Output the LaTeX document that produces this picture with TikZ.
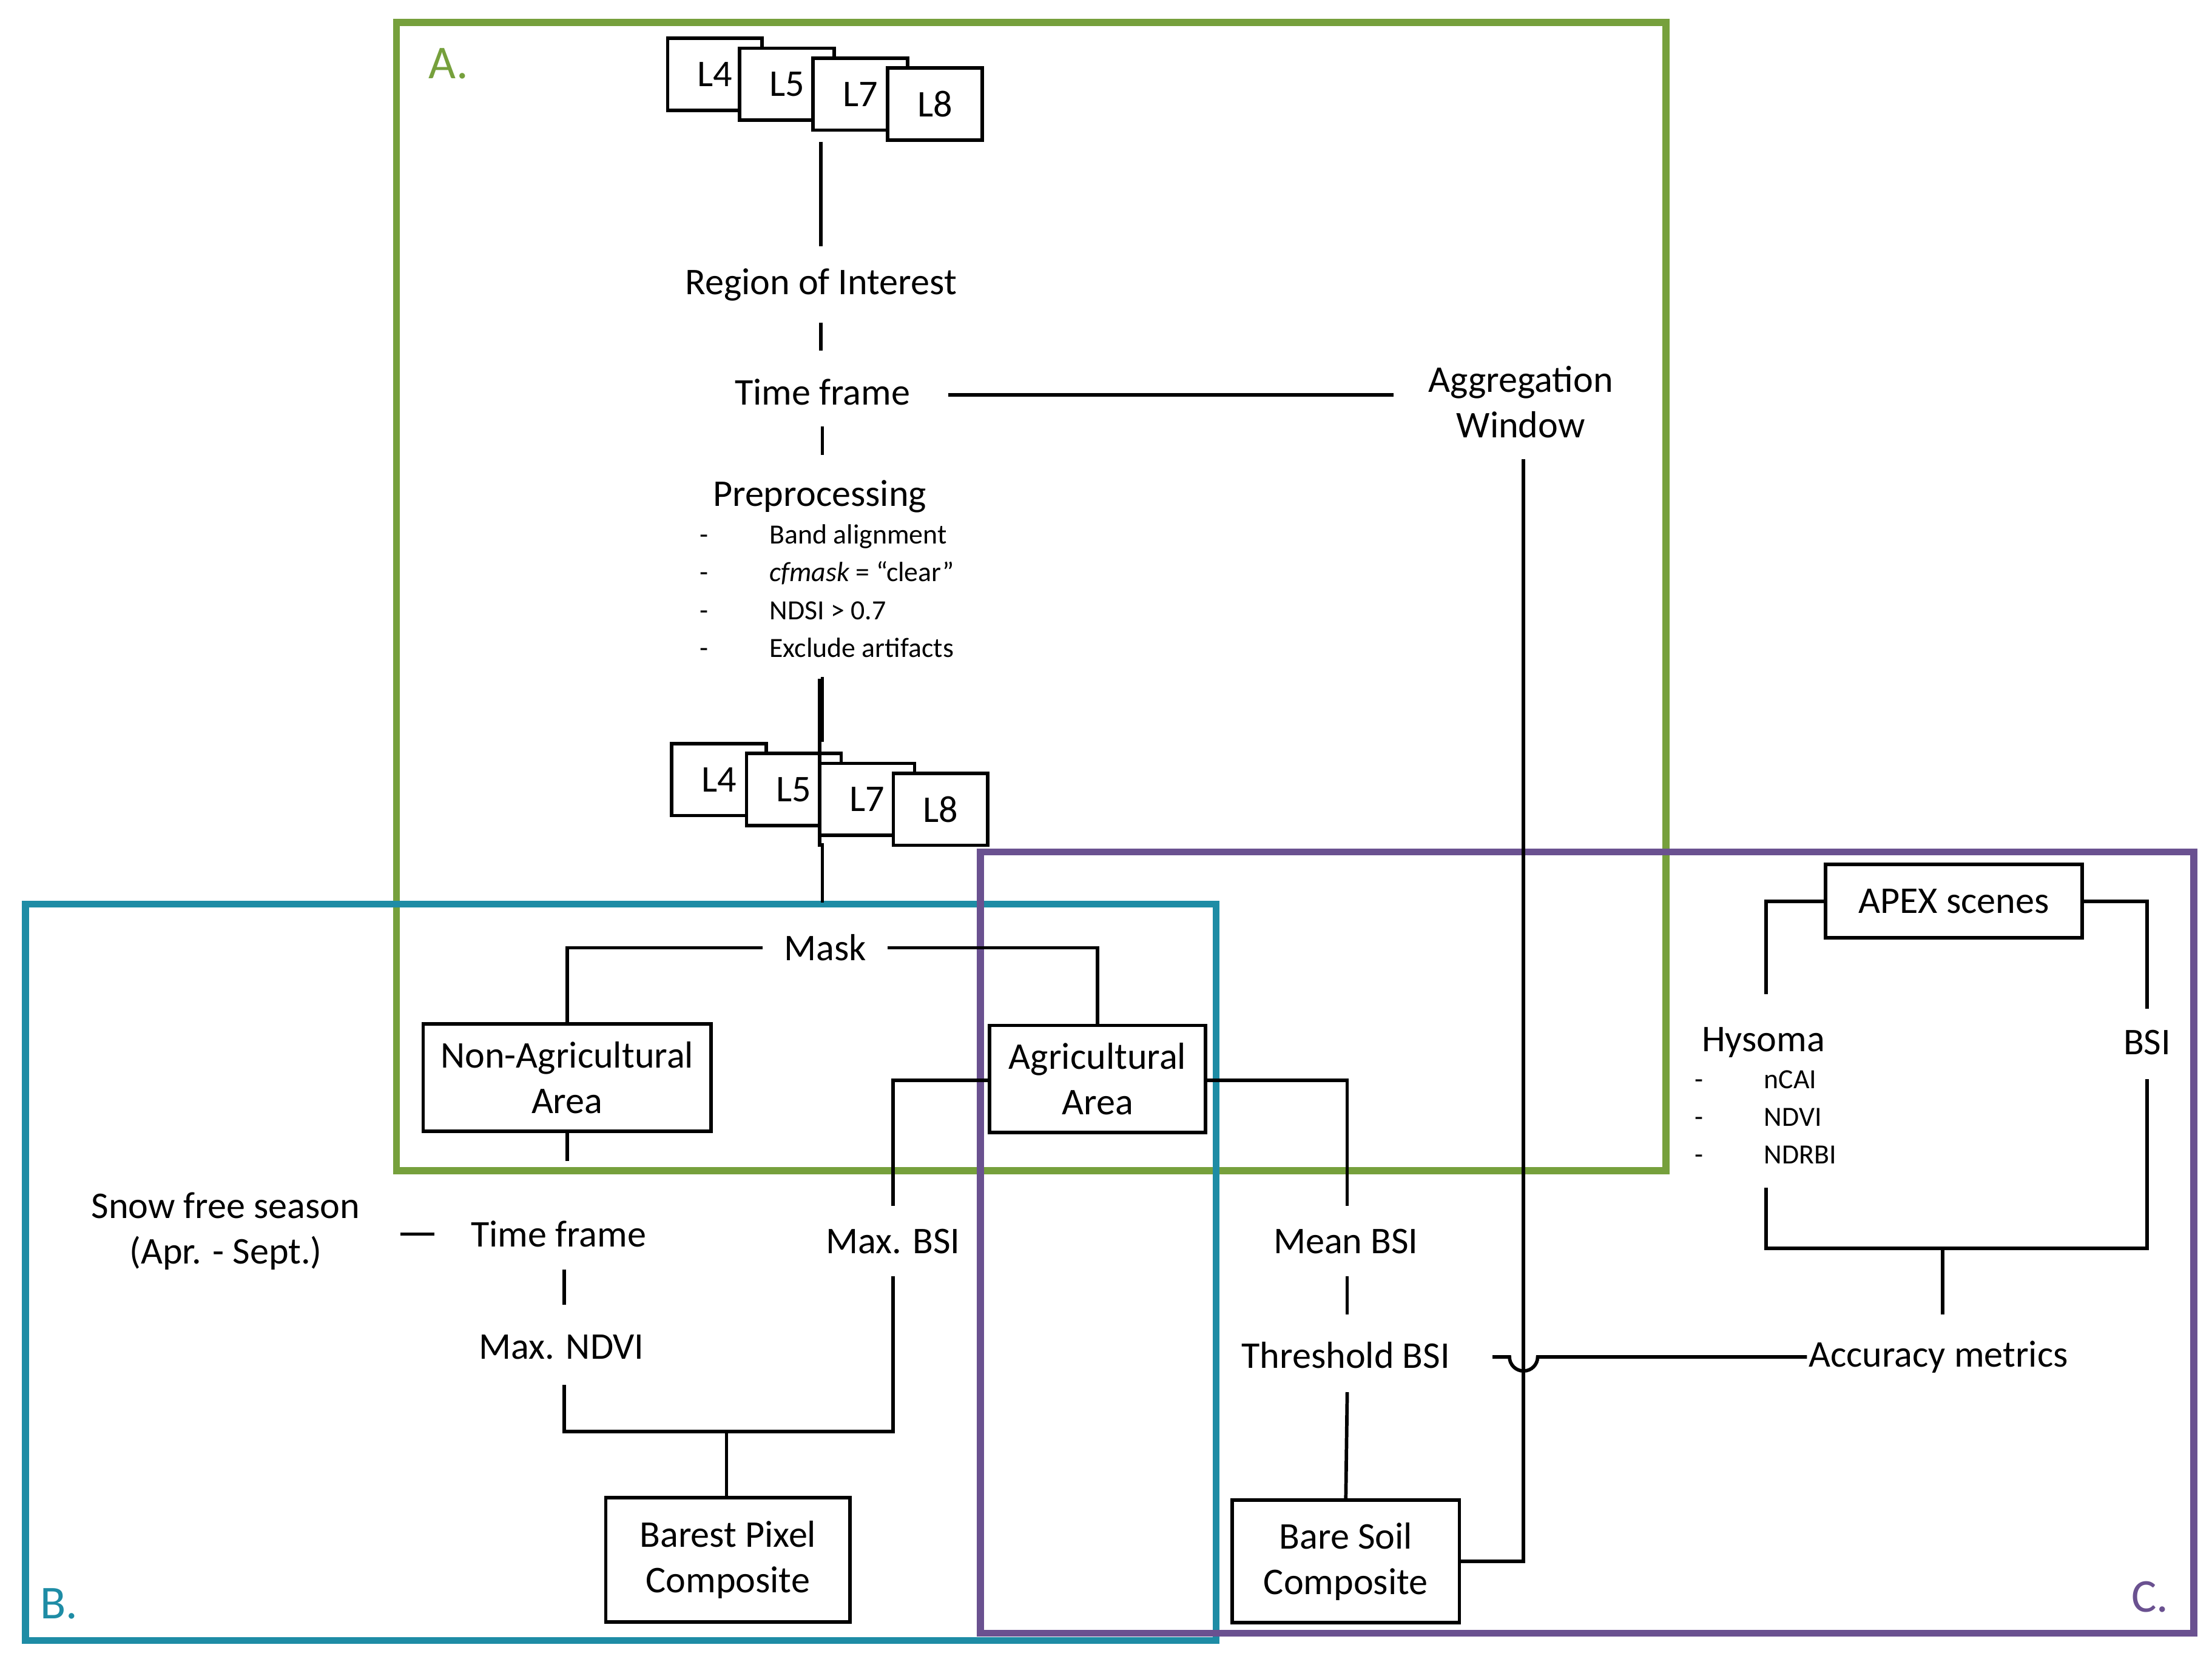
\documentclass[tikz,border=0pt]{standalone}
\usepackage{fontspec}
\setmainfont{Carlito}
\definecolor{grA}{HTML}{76A03C}
\definecolor{blB}{HTML}{1E8CA5}
\definecolor{puC}{HTML}{6A5190}
\begin{document}
\begin{tikzpicture}[
    x=0.01cm, y=-0.01cm,
    line width=0.7pt,
    txt/.style={font=\fontsize{7.6}{9.2}\selectfont, align=center, inner sep=0pt},
    small/.style={font=\fontsize{5.6}{7.6}\selectfont, align=left, inner sep=0pt, anchor=west},
    lbox/.style={draw, fill=white, txt, anchor=north west, minimum width=0.67cm, minimum height=0.51cm},
    box/.style={draw, fill=white, txt},
    frame/.style={line width=1.4pt},
    tag/.style={font=\fontsize{9.5}{11}\selectfont, inner sep=0pt}
]
    \useasboundingbox (0,0) rectangle (1568,1176);

    % --- Frames ---
    \draw[frame, grA] (281,16) rectangle (1181,830);
    \draw[frame, blB] (18,641) rectangle (862,1163);
    \draw[frame, puC] (695,604) rectangle (1555,1158);
    \node[tag, text=grA] (tagA) at (318,45) {A.};
    \node[tag, text=blB] (tagB) at (42,1137) {B.};
    \node[tag, text=puC] (tagC) at (1524,1132) {C.};

    % --- Landsat stacks ---
    \node[lbox] (tL4) at (472,26) {L4};
    \node[lbox] (tL5) at (523,33) {L5};
    \node[lbox] (tL7) at (575,40) {L7};
    \node[lbox] (tL8) at (628,47) {L8};
    \node[lbox] (bL4) at (475,526) {L4};
    \node[lbox] (bL5) at (528,533) {L5};
    \node[lbox] (bL7) at (580,540) {L7};
    \node[lbox] (bL8) at (632,547) {L8};

    % --- A. ---
    \node[txt] (roi) at (582,202) {Region of Interest};
    \node[txt] (tf1) at (583,278) {Time frame};
    \node[txt] (agg) at (1078,285) {Aggregation\\Window};
    \node[txt] (pre) at (581,352) {Preprocessing};
    \node[small] (list) at (495,419) {-\hspace{2.2em}Band alignment\\-\hspace{2.2em}\textit{cfmask} = “clear”\\-\hspace{2.2em}NDSI > 0.7\\-\hspace{2.2em}Exclude artifacts};
    \node[txt] (mask) at (585,672) {Mask};
    \node[box, minimum width=2.04cm, minimum height=0.76cm] (nonag) at (402,764) {Non-Agricultural\\Area};
    \node[box, minimum width=1.53cm, minimum height=0.76cm] (ag) at (778,765) {Agricultural\\Area};

    % --- B. ---
    \node[txt] (snow) at (160,873) {Snow free season\\(Apr. - Sept.)};
    \node[txt] (tf2) at (396,875) {Time frame};
    \node[txt] (maxbsi) at (633,880) {Max. BSI};
    \node[txt] (maxndvi) at (398,955) {Max. NDVI};
    \node[box, minimum width=1.73cm, minimum height=0.88cm] (barest) at (516,1106) {Barest Pixel\\Composite};

    % --- C. ---
    \node[txt] (meanbsi) at (954,880) {Mean BSI};
    \node[txt] (thrbsi) at (954,961) {Threshold BSI};
    \node[box, minimum width=1.61cm, minimum height=0.87cm] (bare) at (954,1107) {Bare Soil\\Composite};
    \node[box, minimum width=1.82cm, minimum height=0.52cm] (apex) at (1385,639) {APEX scenes};
    \node[txt] (hysoma) at (1250,739) {Hysoma};
    \node[small] (hlist) at (1200,792) {-\hspace{2.2em}nCAI\\-\hspace{2.2em}NDVI\\-\hspace{2.2em}NDRBI};
    \node[txt] (bsi) at (1522,739) {BSI};
    \node[txt] (acc) at (1374,962) {Accuracy metrics};

    % --- Connectors ---
    \draw (tL8.south west -| roi) -- ++(0,74);
    \draw (roi.south) ++(0,14) -- ++(0,20);
    \draw (tf1.south) ++(0,14) -- ++(0,20);
    \draw (672,280) -- (988,280);
    \draw (list.south -| pre) ++(0,14) -- (bL8.south west -| pre) ++(0,0);
    \draw (583,480) -- (583,526);
    \draw (583,598) -- (583,640);
    \draw (mask.west) ++(-14,0) -| (nonag.north);
    \draw (mask.east) ++(14,0) -| (ag.north);
    \draw (nonag.south) -- ++(0,20);
    \draw (400,900) -- (400,925);
    \draw (284,875) -- (308,875);
    \draw (400,982) -- (400,1015) -- (633,1015) -- (633,905);
    \draw (515,1015) -- (barest.north -| 515,0);
    \draw (633,855) |- (ag.west |- 0,766);
    \draw (ag.east |- 0,766) -| (955,855);
    \draw (955,905) -- (955,932);
    \draw (955,987) -- (bare.north);
    \draw (agg.south) ++(2,14) -- (1080,1107) -- (bare.east |- 0,1107);
    \draw (1058,962) -- (1070,962) arc[start angle=180, end angle=0, radius=10] -- (acc.west);
    \draw (apex.west) -| (1252,705);
    \draw (apex.east) -| (1522,715);
    \draw (1252,842) -- (1252,885) -- (1522,885) -- (1522,765);
    \draw (1377,885) -- (1377,932);
\end{tikzpicture}
\end{document}
